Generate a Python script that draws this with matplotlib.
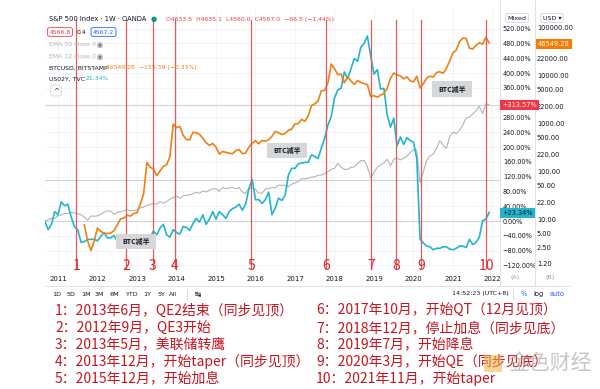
import numpy as np
import pandas as pd
import matplotlib
matplotlib.use('Agg')
import matplotlib.pyplot as plt
from matplotlib.patches import Rectangle
from matplotlib.lines import Line2D
from matplotlib.ticker import FuncFormatter, NullLocator

plt.rcParams['font.family'] = ['DejaVu Sans', 'Noto Sans CJK SC']
CJK = ['Noto Sans CJK SC', 'DejaVu Sans']

# S&P 500, monthly, from 2010-09
spx = [1104, 1141, 1183, 1181,
       1258, 1286, 1327, 1326, 1364, 1345, 1321, 1292, 1219, 1131, 1253, 1247,
       1258, 1312, 1366, 1408, 1398, 1310, 1362, 1379, 1406, 1441, 1412, 1416,
       1426, 1498, 1515, 1569, 1597, 1631, 1606, 1686, 1633, 1682, 1757, 1806,
       1848, 1783, 1859, 1872, 1884, 1924, 1960, 1931, 2003, 1972, 2018, 2068,
       2059, 1995, 2105, 2068, 2086, 2107, 2063, 2104, 1972, 1920, 2079, 2080,
       2044, 1940, 1932, 2060, 2065, 2097, 2099, 2174, 2171, 2168, 2126, 2199,
       2239, 2279, 2364, 2363, 2384, 2412, 2423, 2470, 2472, 2519, 2575, 2648,
       2674, 2824, 2714, 2641, 2648, 2705, 2718, 2816, 2902, 2914, 2712, 2400,
       2560, 2704, 2784, 2834, 2946, 2752, 2942, 2980, 2926, 2977, 3038, 3141,
       3231, 3226, 2250, 2585, 2912, 3044, 3100, 3271, 3500, 3363, 3270, 3622,
       3756, 3714, 3811, 3973, 4181, 4204, 4298, 4395, 4523, 4308, 4605, 4567]

# US02Y yield, monthly, from 2010-09
us2y = [0.495, 0.38, 0.45, 0.62,
        0.58, 0.75, 0.70, 0.72, 0.55, 0.42, 0.38, 0.21, 0.22, 0.25, 0.25, 0.25,
        0.23, 0.29, 0.34, 0.27, 0.27, 0.30, 0.23, 0.27, 0.25, 0.29, 0.26, 0.25,
        0.26, 0.25, 0.25, 0.22, 0.28, 0.36, 0.31, 0.40, 0.45, 0.31, 0.28, 0.38,
        0.34, 0.32, 0.42, 0.41, 0.37, 0.46, 0.53, 0.48, 0.58, 0.45, 0.52, 0.62,
        0.52, 0.62, 0.58, 0.53, 0.62, 0.66, 0.68, 0.72, 0.64, 0.72, 0.93, 1.05,
        0.78, 0.78, 0.73, 0.78, 0.88, 0.58, 0.67, 0.80, 0.77, 0.84, 1.11, 1.20,
        1.20, 1.26, 1.27, 1.28, 1.28, 1.38, 1.36, 1.33, 1.47, 1.60, 1.78, 1.89,
        2.14, 2.25, 2.27, 2.49, 2.40, 2.53, 2.67, 2.63, 2.82, 2.87, 2.97, 2.70,
        2.46, 2.52, 2.26, 2.27, 1.92, 1.75, 1.87, 1.50, 1.62, 1.52, 1.61, 1.57,
        1.55, 1.33, 0.25, 0.20, 0.16, 0.15, 0.11, 0.13, 0.13, 0.15, 0.15, 0.12,
        0.11, 0.13, 0.16, 0.16, 0.14, 0.25, 0.18, 0.21, 0.28, 0.50, 0.52, 0.61]

# BTCUSD (Bitstamp), monthly, from 2011-09
btc = [7.5, 3.5, 2.2, 3.5,
       6.5, 5.5, 5.0, 5.0, 5.1, 5.7, 7.5, 10.0, 10.5, 12.0, 11.5, 13.0,
       13.5, 20.5, 33, 150, 120, 110, 80, 100, 125, 135, 200, 950,
       800, 850, 560, 450, 450, 640, 630, 580, 480, 390, 340, 375,
       315, 225, 255, 245, 235, 230, 265, 280, 230, 237, 315, 375,
       430, 370, 435, 415, 450, 530, 670, 625, 575, 610, 700, 750,
       960, 970, 1190, 1080, 1400, 2300, 2500, 2870, 4700, 4800, 6800, 17000,
       13500, 10200, 10400, 6900, 9200, 7500, 6400, 7700, 7000, 6600, 6300, 3600,
       3700, 3450, 3800, 4100, 5300, 8500, 11000, 10000, 9600, 8300, 9150, 7550,
       7200, 9350, 5400, 6600, 8600, 9450, 9100, 11300, 11700, 10800, 13800, 19700,
       29000, 33100, 50000, 58800, 57700, 36000, 35000, 41500, 47100, 43800, 61300, 46549.28]

years = list(range(2011, 2023))
event_t = [2011.46, 2012.72, 2013.40, 2013.96, 2015.89, 2017.78, 2018.92, 2019.56, 2020.19, 2021.84]
event_lbl = [str(i) for i in range(1, 11)]
pct_ticks = [-120, -80, -40, 0, 40, 80, 120, 160, 200, 240, 280, 360, 400, 440, 480, 520]
btc_ticks = [1.2, 2.5, 5, 10, 22, 50, 100, 220, 500, 1000, 2200, 5000, 10000, 22000, 100000]
ref_levels = [0, 111]

notes_left = ['1：2013年6月，QE2结束（同步见顶）',
              '2：2012年9月，QE3开始',
              '3：2013年5月，美联储转鹰',
              '4：2013年12月，开始taper（同步见顶）',
              '5：2015年12月，开始加息']
notes_right = ['6：2017年10月，开始QT（12月见顶）',
               '7：2018年12月，停止加息（同步见底）',
               '8：2019年7月，开始降息',
               '9：2020年3月，开始QE（同步见底）',
               '10：2021年11月，开始taper']

W, H = 600, 389


def fx(x):
    return x / W


def fy(y):
    return 1 - y / H


def dec_year(dates):
    return dates.year + (dates.month - 1) / 12


t_main = dec_year(pd.date_range('2010-09-01', periods=len(spx), freq='MS'))
t_btc = dec_year(pd.date_range('2011-09-01', periods=len(btc), freq='MS'))
spx_pct = (np.array(spx) / spx[0] - 1) * 100
us2y_pct = (np.array(us2y) / us2y[0] - 1) * 100

fig = plt.figure(figsize=(6, 3.89), dpi=100)
ax = fig.add_axes([fx(45), fy(270), (500 - 45) / W, (270 - 8) / H])
ax2 = ax.twinx()
ax.yaxis.tick_right()

ax.set_xlim(2010.671, 2022.19)
ax.set_ylim(-132.4, 575.7)
ax2.set_yscale('log')
ax2.set_ylim(0.866, 249000)

ax.grid(color='#f0f3fa', lw=0.6)
ax.set_axisbelow(True)
for lv in ref_levels + [spx_pct[-1]]:
    ax.axhline(lv, color='#d1d4dc', lw=0.8, zorder=1)

ax.plot(t_main, spx_pct, color='#b8b3b3', lw=0.8, zorder=2)
ax.plot(t_main, us2y_pct, color='#22b5cb', lw=1.2, zorder=3)
ax2.plot(t_btc, btc, color='#f07f13', lw=1.2, zorder=2)

ax.set_xticks(years)
ax.set_xticklabels([str(y) for y in years])
ax.tick_params(axis='x', length=0, pad=4.5, labelsize=5, labelcolor='#131722')
ax.set_yticks(pct_ticks)
ax.yaxis.set_major_formatter(FuncFormatter(lambda v, p: f'{v:.2f}%'.replace('-', '−')))
ax.tick_params(axis='y', length=0, pad=2, labelsize=4.7, labelcolor='#131722')
ax2.set_yticks(btc_ticks)
ax2.yaxis.set_minor_locator(NullLocator())
ax2.yaxis.set_major_formatter(FuncFormatter(lambda v, p: f'{v:.2f}'))
ax2.tick_params(axis='y', length=0, pad=26.5, labelsize=4.8, labelcolor='#131722')
for a in (ax, ax2):
    for s in a.spines.values():
        s.set_visible(False)

# event lines and numbers
tr = ax2.get_xaxis_transform()
for t, lbl in zip(event_t, event_lbl):
    ax2.axvline(t, ymin=2 / 262, ymax=250 / 262, color='#e25b5b', lw=0.9, zorder=4)
    ax2.text(t, 4 / 262, lbl, transform=tr, ha='center', va='center', fontsize=10,
             color='#e3262b', family=CJK, zorder=5)


def gray_box(cx, cy, text):
    fig.add_artist(Rectangle((fx(cx - 20), fy(cy + 7.5)), 40 / W, 15 / H,
                             transform=fig.transFigure, fc='#d6d7d9', ec='none', zorder=5))
    fig.text(fx(cx), fy(cy), text, ha='center', va='center', fontsize=5, family=CJK,
             color='#131722', fontweight='bold', zorder=6)


gray_box(136, 241, 'BTC减半')
gray_box(287, 150, 'BTC减半')
gray_box(452, 89, 'BTC减半')

# panel borders
for xs, ys in [((500, 500), (0, 286)), ((535, 535), (0, 286)), ((45, 570), (286, 286))]:
    fig.add_artist(Line2D([fx(xs[0]), fx(xs[1])], [fy(ys[0]), fy(ys[1])], color='#e0e3eb', lw=0.7))

# top legend
fs = 4.4
fig.text(fx(49), fy(19), 'S&P 500 Index · 1W · OANDA', fontsize=4.9, color='#131722', va='center')
fig.text(fx(154), fy(19), '●', fontsize=5, color='#089981', va='center', ha='center')
fig.text(fx(166), fy(19), 'O4633.5  H4635.1  L4560.0  C4567.0  −66.5 (−1.44%)', fontsize=fs,
         color='#f23645', va='center')
fig.text(fx(60), fy(32), '4566.8', fontsize=fs, color='#f23645', va='center', ha='center',
         bbox=dict(boxstyle='round,pad=0.3', fc='white', ec='#f23645', lw=0.6))
fig.text(fx(77), fy(32), '0.4', fontsize=fs, color='#131722', va='center')
fig.text(fx(103.5), fy(32), '4567.2', fontsize=fs, color='#2962ff', va='center', ha='center',
         bbox=dict(boxstyle='round,pad=0.3', fc='white', ec='#2962ff', lw=0.6))
fig.text(fx(49), fy(45), 'EMA 50 close 0', fontsize=fs, color='#b2b5be', va='center')
fig.text(fx(100), fy(45), '◉', fontsize=5, color='#787b86', va='center', ha='center')
fig.text(fx(49), fy(57), 'EMA 12 close 0', fontsize=fs, color='#b2b5be', va='center')
fig.text(fx(100), fy(57), '◉', fontsize=5, color='#787b86', va='center', ha='center')
fig.text(fx(49), fy(68), 'BTCUSD, BITSTAMP', fontsize=fs, color='#131722', va='center')
fig.text(fx(106), fy(68), '46549.28  −155.39 (−0.33%)', fontsize=fs, color='#f07f13', va='center')
fig.text(fx(49), fy(79), 'US02Y, TVC', fontsize=fs, color='#131722', va='center')
fig.text(fx(86), fy(79), '21.34%', fontsize=fs, color='#22b5cb', va='center')
fig.text(fx(56), fy(90.5), '^', fontsize=5, color='#131722', va='center', ha='center',
         bbox=dict(boxstyle='round,pad=0.35', fc='white', ec='#d1d4dc', lw=0.6))

# right scale headers and badges
fig.text(fx(517), fy(18), 'Mixed', fontsize=4.6, color='#131722', va='center', ha='center',
         bbox=dict(boxstyle='round,pad=0.3', fc='white', ec='#d1d4dc', lw=0.6))
fig.text(fx(552), fy(18), 'USD ▾', fontsize=4.6, color='#131722', va='center', ha='center',
         bbox=dict(boxstyle='round,pad=0.3', fc='white', ec='#d1d4dc', lw=0.6))
fig.text(fx(538), fy(44), '46549.28', fontsize=4.8, color='white', va='center',
         bbox=dict(boxstyle='square,pad=0.3', fc='#f57c00', ec='none'))
fig.text(fx(502), fy(105), '+313.57%', fontsize=4.8, color='white', va='center',
         bbox=dict(boxstyle='square,pad=0.3', fc='#f23645', ec='none'))
fig.text(fx(502), fy(213), '+23.34%', fontsize=4.8, color='#131722', va='center',
         bbox=dict(boxstyle='square,pad=0.3', fc='#22b5cb', ec='none'))
fig.text(fx(515), fy(278), '(A)', fontsize=4.6, color='#9598a1', va='center', ha='center')
fig.text(fx(550), fy(278), '(B)', fontsize=4.6, color='#9598a1', va='center', ha='center')

# toolbar
for x, s in zip([57, 71, 86, 99, 114, 131, 147, 161, 173],
                ['1D', '5D', '1M', '3M', '6M', 'YTD', '1Y', '5Y', 'All']):
    fig.text(fx(x), fy(294), s, fontsize=4.6, color='#131722', va='center', ha='center')
fig.add_artist(Line2D([fx(187), fx(187)], [fy(289), fy(299)], color='#d1d4dc', lw=0.6))
fig.text(fx(198), fy(294), '↹', fontsize=5.5, color='#131722', va='center', ha='center')
fig.text(fx(480), fy(294), '14:52:23 (UTC+8)', fontsize=4.6, color='#131722', va='center', ha='center')
fig.add_artist(Line2D([fx(513), fx(513)], [fy(289), fy(299)], color='#d1d4dc', lw=0.6))
fig.text(fx(524), fy(294), '%', fontsize=4.8, color='#2962ff', va='center', ha='center')
fig.text(fx(539), fy(294), 'log', fontsize=4.8, color='#131722', va='center', ha='center')
fig.text(fx(557), fy(294), 'auto', fontsize=4.8, color='#2962ff', va='center', ha='center')

# notes
note_y = [311, 328, 344.5, 361.5, 378.5]
for y, s in zip(note_y, notes_left):
    fig.text(fx(55), fy(y), s, fontsize=10, color='#c8141e', family=CJK, va='center')
for y, s in zip(note_y, notes_right):
    fig.text(fx(316), fy(y), s, fontsize=10, color='#c8141e', family=CJK, va='center')

# watermark
fig.add_artist(Rectangle((fx(484), fy(372)), 18 / W, 17 / H, transform=fig.transFigure,
                         fc='#f0b040', ec='none', alpha=0.55, zorder=7))
fig.text(fx(508), fy(363), '金色财经', fontsize=15, color='#a0a0a0', alpha=0.6, family=CJK,
         va='center', zorder=7)

fig.savefig('out.png', dpi=100)
